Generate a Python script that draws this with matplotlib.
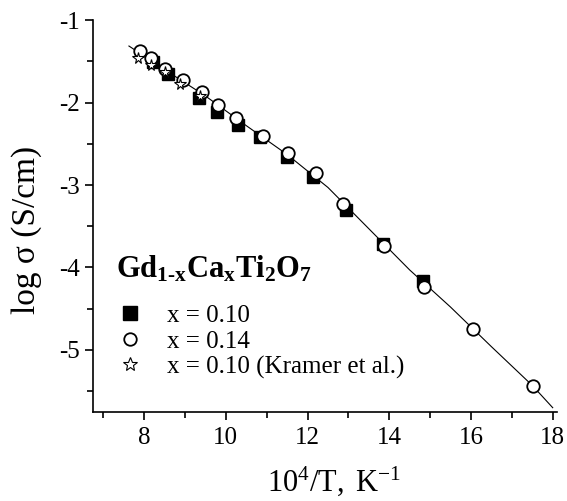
import matplotlib
matplotlib.use('Agg')
import matplotlib.pyplot as plt
from matplotlib.lines import Line2D

plt.rcParams['font.family'] = ['Liberation Serif', 'DejaVu Serif']
plt.rcParams['mathtext.fontset'] = 'custom'
plt.rcParams['mathtext.rm'] = 'Liberation Serif'
plt.rcParams['mathtext.it'] = 'Liberation Serif:italic'
plt.rcParams['mathtext.bf'] = 'Liberation Serif:bold'
plt.rcParams['axes.unicode_minus'] = False

# x = 0.10 (squares)
sq_x = [8.22, 8.59, 9.35, 9.79, 10.30, 10.83, 11.50, 12.14, 12.95, 13.85, 14.83]
sq_y = [-1.51, -1.65, -1.95, -2.11, -2.27, -2.42, -2.66, -2.90, -3.30, -3.72, -4.16]

# x = 0.14 (circles)
ci_x = [7.90, 8.18, 8.52, 8.95, 9.41, 9.80, 10.26, 10.91, 11.53, 12.20, 12.87, 13.88, 14.85, 16.05, 17.51]
ci_y = [-1.37, -1.46, -1.59, -1.73, -1.87, -2.03, -2.19, -2.41, -2.61, -2.86, -3.23, -3.74, -4.24, -4.75, -5.44]

# x = 0.10 (Kramer et al.), stars
st_x = [7.84, 8.16, 8.51, 8.87, 9.38]
st_y = [-1.46, -1.55, -1.63, -1.77, -1.92]

# fit line
fit_x = [7.63, 8.5, 9.5, 10.5, 11.5, 12.5, 13.5, 14.5, 15.5, 16.5, 17.5, 18.0]
fit_y = [-1.315, -1.60, -1.92, -2.28, -2.63, -3.03, -3.53, -4.03, -4.48, -4.96, -5.43, -5.70]

fig = plt.figure(figsize=(5.67, 5.01), dpi=100)
ax = fig.add_axes([0.164, 0.178, 0.818, 0.782])

ax.plot(fit_x, fit_y, color='black', lw=0.8, zorder=1)
ax.plot(sq_x, sq_y, 's', color='black', ms=8.5, zorder=2)
ax.plot(ci_x, ci_y, 'o', mfc='white', mec='black', mew=1.3, ms=9, zorder=3)
ax.plot(st_x, st_y, '*', mfc='white', mec='black', mew=0.8, ms=8.5, zorder=4)

ax.set_xlim(6.75, 18.1)
ax.set_ylim(-5.75, -1)
ax.set_xticks([8, 10, 12, 14, 16, 18])
ax.set_xticks([7, 9, 11, 13, 15, 17], minor=True)
ax.set_yticks([-1, -2, -3, -4, -5])
ax.set_yticks([-1.5, -2.5, -3.5, -4.5, -5.5], minor=True)

for s in ['top', 'right']:
    ax.spines[s].set_visible(False)
ax.spines['left'].set_linewidth(1.2)
ax.spines['bottom'].set_linewidth(1.2)
ax.tick_params(which='major', direction='out', length=6, width=1.2, labelsize=18)
ax.tick_params(axis='x', which='major', pad=5)
ax.tick_params(which='minor', direction='out', length=4.5, width=1.2)

ax.set_xlabel(r'$\mathregular{10^4/T,\ K^{-1}}$', fontsize=22)
ax.xaxis.set_label_coords(0.52, -0.135)
ax.set_ylabel('log σ (S/cm)', fontsize=24)
ax.yaxis.set_label_coords(-0.11, 0.464)

ax.text(0.05, 0.365, r'$\mathbf{Gd_{1\text{-}x}Ca_xTi_2O_7}$', transform=ax.transAxes,
        fontsize=22, ha='left', va='center')

handles = [
    Line2D([], [], ls='none', marker='s', color='black', ms=10),
    Line2D([], [], ls='none', marker='o', mfc='white', mec='black', mew=1.3, ms=9),
    Line2D([], [], ls='none', marker='*', mfc='white', mec='black', mew=0.8, ms=10),
]
labels = ['x = 0.10', 'x = 0.14', 'x = 0.10 (Kramer et al.)']
ax.legend(handles, labels, loc='lower left', bbox_to_anchor=(0.015, 0.04), frameon=False,
          fontsize=18, handlelength=1.0, handletextpad=1.0, labelspacing=0.12,
          borderpad=0.2)

fig.savefig('out.png', dpi=100)
